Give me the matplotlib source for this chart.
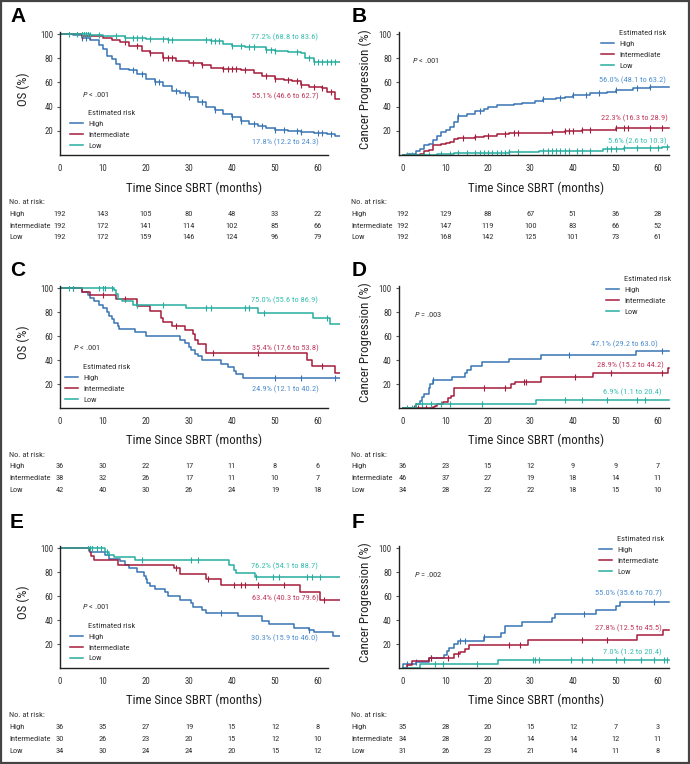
import numpy as np
import matplotlib
matplotlib.use('Agg')
import matplotlib.pyplot as plt
from matplotlib import font_manager
from matplotlib.patches import Rectangle
import matplotlib.transforms as mtransforms

names = {f.name for f in font_manager.fontManager.ttflist}
NARROW, SCALE = 'Liberation Sans', 0.85
for cand in ['Roboto Condensed', 'Archivo Narrow', 'Liberation Sans Narrow', 'Asap Condensed']:
    if cand in names:
        NARROW, SCALE = cand, 1.0
        break
plt.rcParams['font.family'] = [NARROW, 'DejaVu Sans']
plt.rcParams['mathtext.fontset'] = 'custom'
plt.rcParams['mathtext.it'] = NARROW + ':italic'
plt.rcParams['mathtext.rm'] = NARROW

BLUE, RED, TEAL = '#3874b4', '#a51d3c', '#27ad9f'
BLUE_T, RED_T, TEAL_T = '#4f8fcf', '#c23a5e', '#38bfb0'
INK = '#333333'

groups = ['High', 'Intermediate', 'Low']
risk_times = [0, 10, 20, 30, 40, 50, 60]

# ---- Panel A : OS, whole cohort
a_high_t = [0, 3, 5, 7, 9, 10, 11, 12, 13, 14, 16, 18, 20, 22, 24, 26, 28, 30, 32, 34, 36, 38, 40, 42, 44, 46, 48, 50, 53, 56, 59, 62, 64]
a_high_s = [100, 99, 97, 95, 91, 88, 82, 79, 75, 71, 70, 67, 63, 60, 57, 53, 51, 48, 44, 40, 37, 34, 31, 28, 26, 24, 22, 21, 20, 19, 18, 17, 16]
a_int_t = [0, 5, 10, 12, 14, 16, 19, 21, 24, 27, 30, 33, 35, 38, 42, 45, 47, 50, 52, 54, 56, 58, 61, 62, 64]
a_int_s = [100, 98, 97, 95, 93, 90, 86, 84, 80, 78, 76, 74, 72, 71, 70, 68, 65, 63, 62, 61, 58, 56, 55, 52, 46]
a_low_t = [0, 7, 10, 15, 20, 25, 35, 38, 40, 43, 48, 50, 53, 56, 57, 59]
a_low_s = [100, 99, 98, 97, 96, 95, 94, 92, 90, 89, 87, 86, 85, 84, 80, 77]
a_high_c = [5, 6, 17, 19, 22, 23, 27, 29, 30, 33, 36, 40, 42, 45, 47, 50, 52, 55, 56, 60, 61, 63]
a_int_c = [5, 7, 15, 18, 21, 24, 25, 26, 31, 33, 38, 39, 40, 41, 43, 48, 50, 53, 55, 56, 59, 61, 63]
a_low_c = [2, 4, 5, 5.5, 6, 6.5, 7, 9, 13, 15, 17, 18, 19, 21, 24, 25, 26, 34, 35, 36, 37, 40, 42, 44, 45, 48, 49, 50, 55, 58, 59, 60, 61, 62, 63, 64]
a_risk = [[192, 143, 105, 80, 48, 33, 22], [192, 172, 141, 114, 102, 85, 66], [192, 172, 159, 146, 124, 96, 79]]
a_notes = ['17.8% (12.2 to 24.3)', '55.1% (46.6 to 62.7)', '77.2% (68.8 to 83.6)']

# ---- Panel B : progression, whole cohort
b_high_t = [0, 1, 3, 4, 5, 6, 7, 8, 9, 10, 11, 12, 13, 15, 17, 19, 20, 22, 26, 28, 31, 33, 36, 38, 40, 44, 48, 50, 54, 58]
b_high_s = [0, 1, 3, 5, 8, 9, 12, 16, 19, 21, 23, 27, 32, 34, 36, 38, 40, 41, 42, 43, 45, 46, 47, 48, 50, 51, 52, 54, 55, 56]
b_int_t = [0, 4, 5, 6, 7, 9, 10, 11, 12, 13, 17, 19, 22, 25, 35, 38, 42, 50]
b_int_s = [0, 1, 3, 4, 8, 9, 10, 11, 13, 14, 15, 16, 17, 18, 19, 20, 21, 22.3]
b_low_t = [0, 8, 12, 25, 32, 40, 47, 52, 61]
b_low_s = [0, 1, 2, 2.5, 3, 3.5, 5, 5.6, 6.5]
b_high_c = [13, 18, 33, 37, 40, 43, 46, 50, 55, 58]
b_int_c = [14, 17, 20, 24, 26, 27, 35, 38, 39, 40, 42, 44, 50, 52, 53, 58, 61]
b_low_c = [1, 2, 5, 6, 9, 11, 13, 15, 17, 18, 19, 20, 21, 22, 23, 24, 25, 27, 33, 34, 35, 36, 37, 38, 39, 41, 42, 44, 48, 49, 50, 52, 55, 58, 60, 62]
b_risk = [[192, 129, 88, 67, 51, 36, 28], [192, 147, 119, 100, 83, 66, 52], [192, 168, 142, 125, 101, 73, 61]]
b_notes = ['56.0% (48.1 to 63.2)', '22.3% (16.3 to 28.9)', '5.6% (2.6 to 10.3)']

# ---- Panel C : OS, subgroup 1
c_high_t = [0, 5, 6.5, 7, 8, 9, 10, 11, 11.5, 12, 12.5, 13.5, 13.8, 14, 17.5, 20, 28, 29, 30, 30.5, 31.5, 32, 33, 37.5, 39, 40.5, 41, 42.5]
c_high_s = [100, 97, 94, 92, 89, 86, 83, 80, 77, 74, 71, 68, 66, 65.5, 63, 60, 57, 54, 51, 48, 45, 43, 40, 37, 34, 31, 28, 25]
c_int_t = [0, 5, 7, 13, 18, 21, 23.5, 24, 26, 29, 31, 31.5, 32, 34, 57.5, 58.7, 64]
c_int_s = [100, 97, 94, 91, 85, 81, 75, 72, 68, 65, 62, 57, 53, 46, 40, 35.4, 29]
c_low_t = [0, 12.5, 13, 13.5, 14.5, 17, 29.2, 46, 58.8, 62.7]
c_low_s = [100, 98, 95, 91, 89, 86, 83, 79, 75, 70]
c_high_c = [50, 56, 64]
c_int_c = [3, 10, 15, 27, 35.5, 46, 61]
c_low_c = [2, 3, 9, 10, 10.5, 12, 18, 24, 34, 35, 43, 44, 47.5, 62]
c_risk = [[36, 30, 22, 17, 11, 8, 6], [38, 32, 26, 17, 11, 10, 7], [42, 40, 30, 26, 24, 19, 18]]
c_notes = ['24.9% (12.1 to 40.2)', '35.4% (17.6 to 53.8)', '75.0% (55.6 to 86.9)']

# ---- Panel D : progression, subgroup 1
d_high_t = [0, 3.1, 4, 4.5, 5, 6, 6.3, 7, 11.6, 14.5, 15, 16, 18.7, 25, 32.4, 54.9]
d_high_s = [0, 3, 6, 9, 12, 17, 20, 23, 26, 29, 32, 35, 38, 41, 44, 47.1]
d_int_t = [0, 7, 7.5, 8, 9.4, 10.5, 11.3, 12, 25.5, 26.3, 32.4, 44.6, 62.3]
d_int_s = [0, 1, 2, 3, 5, 8, 10, 17, 20, 22, 25.5, 28.9, 33]
d_low_t = [0, 3, 31.3]
d_low_s = [0, 3, 6.9]
d_high_c = [7, 39, 61]
d_int_c = [2.5, 3.5, 4.5, 5.5, 6.5, 19, 24, 28.5, 29, 40.5, 49, 61]
d_low_c = [1, 2, 4.5, 6.5, 9, 11, 18.5, 38, 42, 48, 55, 57]
d_risk = [[36, 23, 15, 12, 9, 9, 7], [46, 37, 27, 19, 18, 14, 11], [34, 28, 22, 22, 18, 15, 10]]
d_notes = ['47.1% (29.2 to 63.0)', '28.9% (15.2 to 44.2)', '6.9% (1.1 to 20.4)']

# ---- Panel E : OS, subgroup 2
e_high_t = [0, 7, 10.5, 11.5, 14, 15, 16, 18, 19.5, 20, 20.3, 21, 22, 24.5, 25, 28, 30.5, 31, 33, 34, 41.5, 47, 48.5, 54.5, 58, 59, 63.5]
e_high_s = [100, 97, 94, 91, 89, 86, 83, 80, 77, 74, 71, 68, 66, 63, 60, 57, 54, 51, 48, 46, 43, 39, 36.5, 33.5, 32, 30.3, 26.5]
e_int_t = [0, 7, 7.3, 8, 13.5, 26.5, 28, 34, 37.5, 55.8, 60.5]
e_int_s = [100, 97, 93, 90, 86, 83, 78, 74, 69.5, 63.4, 57]
e_low_t = [0, 10.5, 11.5, 12.5, 17.5, 39.2, 40.5, 41, 45.4]
e_low_s = [100, 97, 94, 92.5, 90, 86, 82, 79, 76.2]
e_high_c = [37.5, 58]
e_int_c = [27, 34.5, 40.5, 42, 43, 46, 52, 61.5]
e_low_c = [6.5, 7, 7.5, 8.5, 9.5, 11, 19, 30.5, 32, 45.5, 49.5, 51, 57.5, 58.5, 60.5]
e_risk = [[36, 35, 27, 19, 15, 12, 8], [30, 26, 23, 20, 15, 12, 10], [34, 30, 24, 24, 20, 15, 12]]
e_notes = ['30.3% (15.9 to 46.0)', '63.4% (40.3 to 79.6)', '76.2% (54.1 to 88.7)']

# ---- Panel F : progression, subgroup 2
f_high_t = [0, 0.1, 3, 6.2, 9.7, 10.3, 10.8, 12, 13, 19, 23, 24, 28.1, 35, 35.8, 45.4, 50, 51]
f_high_s = [0, 3, 5, 8, 11, 14, 17, 20, 22.5, 25.5, 29, 35, 38.5, 42, 45, 48, 52, 55]
f_int_t = [0, 1, 2, 6.2, 12, 13.5, 14.5, 15.5, 29.5, 55, 61.2]
f_int_s = [0, 2.5, 6, 8.6, 11.5, 13, 16, 19, 23, 27.8, 32]
f_low_t = [0, 3.9, 22.4]
f_low_s = [0, 3, 7.0]
f_high_c = [1, 3, 6.5, 13.5, 14.5, 19, 42.5, 59]
f_int_c = [6.5, 10.5, 13, 25, 27.5, 42, 48]
f_low_c = [7.5, 9.5, 17.5, 30.5, 31, 32, 39.5, 42, 44.5, 50, 52, 56, 59, 61.5, 62]
f_risk = [[35, 28, 20, 15, 12, 7, 3], [34, 28, 20, 14, 14, 12, 11], [31, 26, 23, 21, 14, 11, 8]]
f_notes = ['55.0% (35.6 to 70.7)', '27.8% (12.5 to 45.5)', '7.0% (1.2 to 20.4)']

W, H = 690, 764
fig = plt.figure(figsize=(W / 100, H / 100), dpi=100)

FS_LABEL = 9.3 * SCALE
FS_SMALL = 6.0 * SCALE
FS_TICK = 6.3 * SCALE
FS_TABLE = 6.0 * SCALE


def px_axes(x0, y0, x1, y1):
    return fig.add_axes([x0 / W, 1 - y1 / H, (x1 - x0) / W, (y1 - y0) / H])


def km_line(ax, t, s, cens, color, label, t_end):
    t = np.array(list(t) + [t_end], dtype=float)
    s = np.array(list(s) + [s[-1]], dtype=float)
    ax.step(t, s, where='post', color=color, lw=1.1, label=label)
    idx = np.searchsorted(t, cens, side='right') - 1
    ax.plot(cens, s[idx], ls='none', marker='|', ms=4, mew=0.8, color=color)


def panel(letter, box, xlim, spine_end, t_end, curves, notes, note_xy, risk,
          ylabel, ylabel_x, p_text, p_xy, legend_px, label_px, xlabel_x, table_y):
    ax = px_axes(*box)
    colors = [BLUE, RED, TEAL]
    tcolors = [BLUE_T, RED_T, TEAL_T]
    for (t, s, c), col, g in zip(curves, colors, groups):
        km_line(ax, t, s, c, col, g, t_end)
    ax.set_xlim(*xlim)
    ax.set_ylim(0, 102)
    for sp in ['top', 'right']:
        ax.spines[sp].set_visible(False)
    ax.spines['bottom'].set_bounds(xlim[0], spine_end)
    ax.spines['left'].set_bounds(0, 102)
    for sp in ['bottom', 'left']:
        ax.spines[sp].set_color('#222222')
        ax.spines[sp].set_linewidth(1.0)
    ax.set_xticks(risk_times)
    ax.set_yticks([20, 40, 60, 80, 100])
    ax.tick_params(axis='x', length=0, pad=6.5, labelsize=FS_TICK, labelcolor=INK)
    ax.tick_params(axis='y', length=2.5, width=0.8, pad=2.5, labelsize=FS_TICK, labelcolor=INK, color='#555555')
    ax.set_xlabel('Time Since SBRT (months)', fontsize=FS_LABEL, color='#222222', va='center')
    ax.xaxis.set_label_coords(xlabel_x, -0.267)
    ax.set_ylabel(ylabel, fontsize=FS_LABEL, color='#222222', va='center')
    ax.yaxis.set_label_coords(ylabel_x, 0.535)
    for txt, (x, y), col in zip(notes, note_xy, tcolors):
        ax.text(x, y, txt, color=col, fontsize=FS_SMALL, ha='center', va='center')
    ax.text(p_xy[0], p_xy[1], p_text, fontsize=FS_SMALL, color=INK, ha='left', va='center')
    # legend: title as separate text, aligned with the entry labels
    lx, ly = legend_px
    fig.text((lx + 18) / W, 1 - ly / H, 'Estimated risk', fontsize=FS_SMALL, color=INK, va='center', ha='left')
    leg = ax.legend(loc='upper left', bbox_to_anchor=(lx / W, 1 - (ly + 7.5) / H), bbox_transform=fig.transFigure,
                    frameon=False, fontsize=FS_SMALL, handlelength=1.6, handletextpad=0.6, labelspacing=0.45,
                    borderpad=0, borderaxespad=0)
    for tx in leg.get_texts():
        tx.set_color(INK)
    # panel letter
    fig.text(label_px[0] / W, 1 - label_px[1] / H, letter, fontsize=15, fontweight='bold', va='center', ha='left',
             family=['Liberation Sans', 'DejaVu Sans'])
    # risk table
    trans = mtransforms.blended_transform_factory(ax.transData, fig.transFigure)
    tx0 = (label_px[0] - 1) / W
    fig.text(tx0, 1 - table_y[0] / H, 'No. at risk:', fontsize=FS_TABLE, color=INK, va='center')
    for row, g, y in zip(risk, groups, table_y[1:]):
        fig.text(tx0, 1 - y / H, g, fontsize=FS_TABLE, color=INK, va='center')
        for tt, n in zip(risk_times, row):
            ax.text(tt, 1 - y / H, str(n), transform=trans, fontsize=FS_TABLE, color=INK, ha='center', va='center')
    return ax


LEFT = (60, 339.5)
RIGHT = (398.75, 670.75)
rows_y = [(31.6, 155), (285.6, 408), (545.6, 668)]
table_rows = [[202, 214, 226, 237], [455, 466, 478, 490], [715, 727, 739, 751]]

os_x = 52.3
panel('A', (LEFT[0], rows_y[0][0], LEFT[1], rows_y[0][1]), (0, 65), 62.3, 65,
      [(a_high_t, a_high_s, a_high_c), (a_int_t, a_int_s, a_int_c), (a_low_t, a_low_s, a_low_c)],
      a_notes, [(os_x, 11), (os_x, 49), (os_x, 97)], a_risk,
      'OS (%)', -0.13, r'$P$ < .001', (5, 50), (70, 113), (10, 17), 0.48, table_rows[0])
panel('B', (RIGHT[0], rows_y[0][0], RIGHT[1], rows_y[0][1]), (-1, 63), 62.6, 62.5,
      [(b_high_t, b_high_s, b_high_c), (b_int_t, b_int_s, b_int_c), (b_low_t, b_low_s, b_low_c)],
      b_notes, [(54, 62), (54.5, 30.5), (55, 11.5)], b_risk,
      'Cancer Progression (%)', -0.124, r'$P$ < .001', (2, 78), (601, 33), (352, 17), 0.503, table_rows[0])
panel('C', (LEFT[0], rows_y[1][0], LEFT[1], rows_y[1][1]), (0, 65), 62.3, 65,
      [(c_high_t, c_high_s, c_high_c), (c_int_t, c_int_s, c_int_c), (c_low_t, c_low_s, c_low_c)],
      c_notes, [(os_x, 16), (os_x, 50), (os_x, 89.5)], c_risk,
      'OS (%)', -0.13, r'$P$ < .001', (3, 50), (65, 367), (10, 270), 0.48, table_rows[1])
panel('D', (RIGHT[0], rows_y[1][0], RIGHT[1], rows_y[1][1]), (-1, 63), 62.6, 62.5,
      [(d_high_t, d_high_s, d_high_c), (d_int_t, d_int_s, d_int_c), (d_low_t, d_low_s, d_low_c)],
      d_notes, [(52, 53), (53.5, 36), (54, 13.5)], d_risk,
      'Cancer Progression (%)', -0.124, r'$P$ = .003', (2.5, 78), (606, 279), (352, 270), 0.503, table_rows[1])
panel('E', (LEFT[0], rows_y[2][0], LEFT[1], rows_y[2][1]), (0, 65), 62.3, 65,
      [(e_high_t, e_high_s, e_high_c), (e_int_t, e_int_s, e_int_c), (e_low_t, e_low_s, e_low_c)],
      e_notes, [(os_x, 25), (os_x, 58), (os_x, 85)], e_risk,
      'OS (%)', -0.13, r'$P$ < .001', (5, 51), (70, 626), (10, 523), 0.48, table_rows[2])
panel('F', (RIGHT[0], rows_y[2][0], RIGHT[1], rows_y[2][1]), (-1, 63), 62.6, 62.5,
      [(f_high_t, f_high_s, f_high_c), (f_int_t, f_int_s, f_int_c), (f_low_t, f_low_s, f_low_c)],
      f_notes, [(53, 62), (53, 33), (54, 13)], f_risk,
      'Cancer Progression (%)', -0.124, r'$P$ = .002', (2.5, 78), (599, 539), (352, 523), 0.503, table_rows[2])

fig.add_artist(Rectangle((0.0015, 0.0015), 0.997, 0.997, transform=fig.transFigure,
                         fill=False, edgecolor='#444444', lw=1.6))

fig.savefig('out.png', dpi=100)
